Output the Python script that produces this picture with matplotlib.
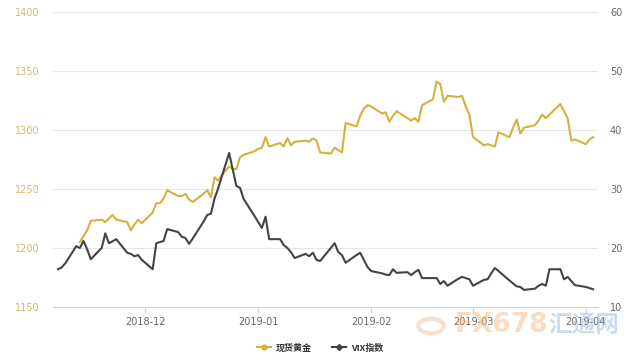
import matplotlib
matplotlib.use("Agg")
import matplotlib.pyplot as plt
from matplotlib.lines import Line2D
import pandas as pd

plt.rcParams['font.family'] = ['Noto Sans CJK SC', 'DejaVu Sans']

gold_dates = ["2018-11-13", "2018-11-14", "2018-11-15", "2018-11-16", "2018-11-19", "2018-11-20",
              "2018-11-21", "2018-11-22", "2018-11-23", "2018-11-26", "2018-11-27", "2018-11-28",
              "2018-11-29", "2018-11-30", "2018-12-03", "2018-12-04", "2018-12-05", "2018-12-06",
              "2018-12-07", "2018-12-10", "2018-12-11", "2018-12-12", "2018-12-13", "2018-12-14",
              "2018-12-17", "2018-12-18", "2018-12-19", "2018-12-20", "2018-12-21", "2018-12-22",
              "2018-12-24", "2018-12-25", "2018-12-26", "2018-12-27", "2018-12-28", "2018-12-31",
              "2019-01-01", "2019-01-02", "2019-01-03", "2019-01-04", "2019-01-07", "2019-01-08",
              "2019-01-09", "2019-01-10", "2019-01-11", "2019-01-14", "2019-01-15", "2019-01-16",
              "2019-01-17", "2019-01-18", "2019-01-21", "2019-01-22", "2019-01-23", "2019-01-24",
              "2019-01-25", "2019-01-28", "2019-01-29", "2019-01-30", "2019-01-31", "2019-02-01",
              "2019-02-04", "2019-02-05", "2019-02-06", "2019-02-07", "2019-02-08", "2019-02-11",
              "2019-02-12", "2019-02-13", "2019-02-14", "2019-02-15", "2019-02-18", "2019-02-19",
              "2019-02-20", "2019-02-21", "2019-02-22", "2019-02-25", "2019-02-26", "2019-02-27",
              "2019-02-28", "2019-03-01", "2019-03-04", "2019-03-05", "2019-03-06", "2019-03-07",
              "2019-03-08", "2019-03-11", "2019-03-12", "2019-03-13", "2019-03-14", "2019-03-15",
              "2019-03-18", "2019-03-19", "2019-03-20", "2019-03-21", "2019-03-22", "2019-03-25",
              "2019-03-26", "2019-03-27", "2019-03-28", "2019-03-29", "2019-04-01", "2019-04-02",
              "2019-04-03"]
gold_values = [1205, 1210, 1215, 1223, 1224, 1222,
               1225, 1228, 1224, 1222, 1215, 1220,
               1224, 1221, 1230, 1238, 1238, 1242,
               1249, 1244, 1244, 1246, 1241, 1239,
               1246, 1249, 1243, 1260, 1257, 1262,
               1269, 1267, 1267, 1277, 1279, 1282,
               1284, 1285, 1294, 1286, 1289, 1286,
               1293, 1287, 1290, 1291, 1290, 1293,
               1291, 1281, 1280, 1285, 1283, 1281,
               1306, 1303, 1312, 1318, 1321, 1320,
               1314, 1315, 1307, 1312, 1316, 1310,
               1308, 1310, 1307, 1321, 1326, 1341,
               1339, 1324, 1329, 1328, 1329, 1320,
               1313, 1294, 1287, 1288, 1287, 1286,
               1298, 1294, 1302, 1309, 1297, 1302,
               1304, 1308, 1313, 1310, 1313, 1322,
               1316, 1310, 1291, 1292, 1288, 1292,
               1294]

vix_dates = ["2018-11-07", "2018-11-08", "2018-11-09", "2018-11-12", "2018-11-13", "2018-11-14",
             "2018-11-15", "2018-11-16", "2018-11-19", "2018-11-20", "2018-11-21", "2018-11-23",
             "2018-11-26", "2018-11-27", "2018-11-28", "2018-11-29", "2018-11-30", "2018-12-03",
             "2018-12-04", "2018-12-06", "2018-12-07", "2018-12-10", "2018-12-11", "2018-12-12",
             "2018-12-13", "2018-12-14", "2018-12-17", "2018-12-18", "2018-12-19", "2018-12-20",
             "2018-12-21", "2018-12-24", "2018-12-26", "2018-12-27", "2018-12-28", "2018-12-31",
             "2019-01-02", "2019-01-03", "2019-01-04", "2019-01-07", "2019-01-08", "2019-01-09",
             "2019-01-10", "2019-01-11", "2019-01-14", "2019-01-15", "2019-01-16", "2019-01-17",
             "2019-01-18", "2019-01-22", "2019-01-23", "2019-01-24", "2019-01-25", "2019-01-28",
             "2019-01-29", "2019-01-30", "2019-01-31", "2019-02-01", "2019-02-04", "2019-02-05",
             "2019-02-06", "2019-02-07", "2019-02-08", "2019-02-11", "2019-02-12", "2019-02-13",
             "2019-02-14", "2019-02-15", "2019-02-19", "2019-02-20", "2019-02-21", "2019-02-22",
             "2019-02-25", "2019-02-26", "2019-02-27", "2019-02-28", "2019-03-01", "2019-03-04",
             "2019-03-05", "2019-03-06", "2019-03-07", "2019-03-08", "2019-03-11", "2019-03-12",
             "2019-03-13", "2019-03-14", "2019-03-15", "2019-03-18", "2019-03-19", "2019-03-20",
             "2019-03-21", "2019-03-22", "2019-03-25", "2019-03-26", "2019-03-27", "2019-03-28",
             "2019-03-29", "2019-04-01", "2019-04-02", "2019-04-03"]
vix_values = [16.4, 16.7, 17.4, 20.3, 20.0, 21.2,
              19.8, 18.1, 20.0, 22.5, 20.8, 21.5,
              19.2, 19.0, 18.6, 18.8, 18.0, 16.4,
              20.8, 21.2, 23.2, 22.7, 21.9, 21.7,
              20.7, 21.6, 24.5, 25.6, 25.8, 28.4,
              30.1, 36.1, 30.5, 30.2, 28.3, 25.4,
              23.4, 25.3, 21.5, 21.5, 20.5, 20.0,
              19.3, 18.3, 19.0, 18.6, 19.2, 18.0,
              17.8, 20.8, 19.3, 18.8, 17.5, 18.8,
              19.2, 18.0, 16.8, 16.1, 15.7, 15.5,
              15.4, 16.4, 15.8, 15.9, 15.4, 15.9,
              16.3, 14.9, 14.9, 13.9, 14.4, 13.6,
              14.8, 15.1, 14.9, 14.7, 13.6, 14.6,
              14.7, 15.7, 16.6, 16.1, 14.5, 14.0,
              13.5, 13.4, 12.9, 13.1, 13.6, 13.9,
              13.6, 16.4, 16.4, 14.7, 15.1, 14.4,
              13.7, 13.4, 13.2, 13.0]

x_ticks = ["2018-12-01", "2019-01-01", "2019-02-01", "2019-03-01", "2019-04-01"]
x_tick_labels = ["2018-12", "2019-01", "2019-02", "2019-03", "2019-04"]
left_ticks = [1150, 1200, 1250, 1300, 1350, 1400]
right_ticks = [10, 20, 30, 40, 50, 60]
series_names = ["现货黄金", "VIX指数"]

GOLD = "#D4B13E"
DARK = "#434348"

fig = plt.figure(figsize=(6.4, 3.6), dpi=100)
ax = fig.add_axes([53/640, 1 - 307/360, (598 - 53)/640, (307 - 12)/360])
ax2 = ax.twinx()

gd = pd.to_datetime(gold_dates)
vd = pd.to_datetime(vix_dates)

ax.plot(gd, gold_values, color=GOLD, lw=1.5, zorder=3, solid_joinstyle='round')
ax2.plot(vd, vix_values, color=DARK, lw=1.5, zorder=3, solid_joinstyle='round')

ax.set_ylim(left_ticks[0], left_ticks[-1])
ax2.set_ylim(right_ticks[0], right_ticks[-1])
ax.set_yticks(left_ticks)
ax2.set_yticks(right_ticks)
ax.set_xlim(pd.Timestamp("2018-11-05 15:00"), pd.Timestamp("2019-04-04 08:00"))

ax.set_xticks(pd.to_datetime(x_ticks))
ax.set_xticklabels(x_tick_labels)

ax.grid(axis='y', color='#e6e6e6', lw=0.8)
ax.set_axisbelow(True)
for a in (ax, ax2):
    for s in a.spines.values():
        s.set_visible(False)
ax.spines['bottom'].set_visible(True)
ax.spines['bottom'].set_color('#ccd6eb')
ax.spines['bottom'].set_linewidth(0.8)

ax.tick_params(axis='x', colors='#ccd6eb', length=4, width=0.8, labelsize=7, labelcolor='#666666', pad=3)
ax.tick_params(axis='y', length=0, labelsize=7, labelcolor='#D4B96A', pad=9.5)
ax2.tick_params(axis='y', length=0, labelsize=7, labelcolor='#666666', pad=8.6)
for lab in ax.get_yticklabels() + ax2.get_yticklabels() + ax.get_xticklabels():
    lab.set_family(['DejaVu Sans'])

# watermark (faint, as in the reference)
fig.text(455/640, 1 - 325/360, "FX678", fontsize=19, color='#F7B27A', alpha=0.45,
         ha='left', va='center', fontweight='bold', family=['DejaVu Sans'])
fig.text(548/640, 1 - 325/360, "汇通网", fontsize=17, color='#8FB1DE', alpha=0.45,
         ha='left', va='center', fontweight='bold')
circ = plt.Circle((431/640, 1 - 326/360), 0.02, transform=fig.transFigure,
                  fill=False, lw=3, color='#F5B88A', alpha=0.45)
fig.add_artist(circ)

handles = [Line2D([0], [0], color=GOLD, lw=1.5, marker='o', markersize=3.5),
           Line2D([0], [0], color=DARK, lw=1.5, marker='D', markersize=3)]
leg = fig.legend(handles, series_names, loc='center', bbox_to_anchor=(320/640, 1 - 348/360),
                 ncol=2, frameon=False, fontsize=6.5, handlelength=1.6, columnspacing=2.2,
                 handletextpad=0.5)
for t in leg.get_texts():
    t.set_color('#333333')
    t.set_fontweight('bold')

fig.savefig("out.png", dpi=100)
